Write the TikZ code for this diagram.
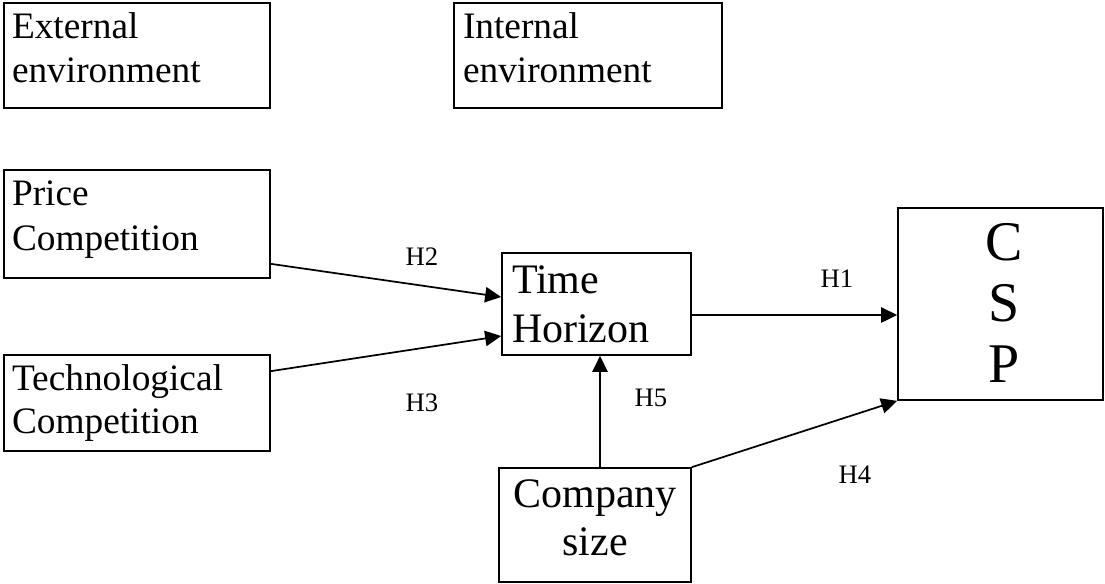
\documentclass[tikz,border=0pt]{standalone}
\usepackage{fontspec}
\setmainfont{Liberation Serif}
\usetikzlibrary{arrows.meta,calc}

% box content: height, width, first-baseline drop, left inset, font size, line skip, text
\newcommand{\boxtext}[7]{%
  \parbox[c][#1][t]{#2}{\fontsize{#5}{#6}\selectfont\leftskip=#4\relax
    \rule{0pt}{#3}#7}}
\newcommand{\boxctext}[6]{%
  \parbox[c][#1][t]{#2}{\fontsize{#4}{#5}\selectfont\centering
    \rule{0pt}{#3}#6}}

\begin{document}
\begin{tikzpicture}[x=0.75pt,y=-0.75pt,
  box/.style={draw, line width=1.3pt, inner sep=0pt},
  arr/.style={-{Triangle[length=12pt,width=11.5pt]}, line width=1.3pt},
  hyp/.style={font=\fontsize{20pt}{22pt}\selectfont, inner sep=0pt}]
\useasboundingbox (0,0) rectangle (1105,583);

% environment headings
\node[box] (ext) at (137,55.5)
  {\boxtext{78.75pt}{199.5pt}{26.25pt}{6pt}{28pt}{33pt}{External\\environment}};
\node[box] (int) at (588,55.5)
  {\boxtext{78.75pt}{201pt}{26.25pt}{6.75pt}{28pt}{33pt}{Internal\\environment}};

% antecedents
\node[box] (price) at (137,224)
  {\boxtext{81pt}{199.5pt}{26.25pt}{6pt}{28pt}{33.75pt}{Price\\Competition}};
\node[box] (tech) at (137,403)
  {\boxtext{72pt}{199.5pt}{26.25pt}{6pt}{28pt}{32.25pt}{Technological\\Competition}};

% mediator, moderator and outcome
\node[box] (th) at (596.5,304)
  {\boxtext{76.5pt}{141.75pt}{30pt}{7.5pt}{31.5pt}{36.75pt}{Time\\Horizon}};
\node[box] (comp) at (595,525)
  {\boxctext{85.5pt}{144pt}{29.25pt}{31.5pt}{36pt}{Company\\size}};
\node[box] (csp) at (1000.5,304)
  {\boxctext{144pt}{153.75pt}{39pt}{42pt}{45.75pt}{\hspace*{6pt}C\\\hspace*{6pt}S\\\hspace*{6pt}P}};

% hypothesised paths
\coordinate (cs) at ($(comp.north)+(5,0)$);
\draw[arr] ($(price.south east)+(0,-15)$) -- ($(th.west)+(0,-7)$);
\draw[arr] ($(tech.north east)+(0,17)$) -- ($(th.west)+(0,32)$);
\draw[arr] ($(th.east)+(0,11)$) -- ($(csp.west)+(0,11)$);
\draw[arr] (cs) -- (cs |- th.south);
\draw[arr] (comp.north east) -- (csp.south west);

% path labels
\node[hyp] (h1) at (837,279) {H1};
\node[hyp] (h2) at (422,257) {H2};
\node[hyp] (h3) at (422,403) {H3};
\node[hyp] (h4) at (855,475) {H4};
\node[hyp] (h5) at (651,398) {H5};
\end{tikzpicture}
\end{document}
